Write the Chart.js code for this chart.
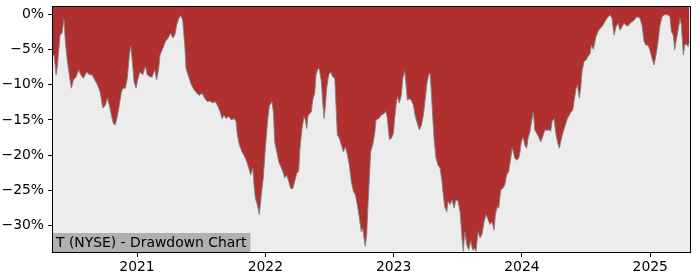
<!DOCTYPE html>
<html>
<head>
<meta charset="utf-8">
<script src="https://cdn.jsdelivr.net/npm/chart.js@4.4.1/dist/chart.umd.min.js"></script>
<style>
  html, body { margin: 0; padding: 0; background: #fff; }
  #wrap { width: 700px; height: 280px; position: relative; }
</style>
</head>
<body>
<div id="wrap"><canvas id="drawdownChart"></canvas></div>
<script>
// Drawdown of T (NYSE), dates as decimal years, values in %
const dates = [
  2020.345, 2020.353, 2020.369, 2020.379, 2020.400, 2020.415, 2020.431, 2020.441, 2020.457, 2020.472,
  2020.488, 2020.504, 2020.525, 2020.546, 2020.561, 2020.582, 2020.608, 2020.628, 2020.649, 2020.670,
  2020.691, 2020.712, 2020.733, 2020.753, 2020.769, 2020.784, 2020.800, 2020.815, 2020.831, 2020.846,
  2020.862, 2020.878, 2020.893, 2020.909, 2020.924, 2020.940, 2020.951, 2020.961, 2020.977, 2020.992,
  2021.008, 2021.023, 2021.044, 2021.065, 2021.080, 2021.101, 2021.117, 2021.138, 2021.153, 2021.169,
  2021.179, 2021.200, 2021.221, 2021.242, 2021.263, 2021.278, 2021.294, 2021.309, 2021.325, 2021.341,
  2021.356, 2021.372, 2021.382, 2021.403, 2021.423, 2021.444, 2021.465, 2021.486, 2021.507, 2021.527,
  2021.548, 2021.569, 2021.590, 2021.610, 2021.631, 2021.647, 2021.663, 2021.678, 2021.694, 2021.715,
  2021.735, 2021.756, 2021.772, 2021.782, 2021.797, 2021.818, 2021.839, 2021.855, 2021.871, 2021.886,
  2021.902, 2021.912, 2021.922, 2021.938, 2021.953, 2021.969, 2021.984, 2022.000, 2022.016, 2022.031,
  2022.052, 2022.063, 2022.073, 2022.089, 2022.104, 2022.120, 2022.136, 2022.151, 2022.167, 2022.182,
  2022.198, 2022.214, 2022.229, 2022.245, 2022.260, 2022.270, 2022.286, 2022.302, 2022.312, 2022.323,
  2022.333, 2022.348, 2022.359, 2022.369, 2022.385, 2022.395, 2022.411, 2022.421, 2022.437, 2022.447,
  2022.458, 2022.468, 2022.478, 2022.494, 2022.510, 2022.525, 2022.541, 2022.551, 2022.561, 2022.577,
  2022.592, 2022.608, 2022.624, 2022.639, 2022.655, 2022.670, 2022.686, 2022.702, 2022.717, 2022.733,
  2022.748, 2022.759, 2022.769, 2022.779, 2022.790, 2022.800, 2022.811, 2022.821, 2022.837, 2022.852,
  2022.863, 2022.884, 2022.904, 2022.925, 2022.941, 2022.951, 2022.967, 2022.982, 2022.998, 2023.008,
  2023.019, 2023.029, 2023.044, 2023.060, 2023.071, 2023.086, 2023.097, 2023.107, 2023.122, 2023.138,
  2023.154, 2023.169, 2023.185, 2023.200, 2023.216, 2023.232, 2023.247, 2023.258, 2023.273, 2023.284,
  2023.294, 2023.304, 2023.315, 2023.330, 2023.346, 2023.362, 2023.377, 2023.387, 2023.398, 2023.414,
  2023.424, 2023.440, 2023.455, 2023.471, 2023.486, 2023.502, 2023.518, 2023.533, 2023.543, 2023.554,
  2023.570, 2023.585, 2023.601, 2023.616, 2023.632, 2023.642, 2023.658, 2023.673, 2023.689, 2023.705,
  2023.720, 2023.736, 2023.751, 2023.767, 2023.783, 2023.793, 2023.808, 2023.819, 2023.835, 2023.850,
  2023.866, 2023.881, 2023.897, 2023.913, 2023.923, 2023.933, 2023.944, 2023.959, 2023.975, 2023.985,
  2023.995, 2024.011, 2024.021, 2024.037, 2024.048, 2024.063, 2024.079, 2024.089, 2024.100, 2024.115,
  2024.131, 2024.147, 2024.162, 2024.178, 2024.193, 2024.209, 2024.224, 2024.235, 2024.250, 2024.266,
  2024.282, 2024.292, 2024.308, 2024.323, 2024.339, 2024.354, 2024.370, 2024.385, 2024.396, 2024.406,
  2024.422, 2024.432, 2024.447, 2024.458, 2024.468, 2024.484, 2024.500, 2024.515, 2024.531, 2024.541,
  2024.557, 2024.577, 2024.593, 2024.609, 2024.624, 2024.640, 2024.656, 2024.671, 2024.687, 2024.702,
  2024.718, 2024.733, 2024.749, 2024.765, 2024.780, 2024.796, 2024.811, 2024.827, 2024.843, 2024.858,
  2024.874, 2024.889, 2024.905, 2024.920, 2024.936, 2024.952, 2024.967, 2024.983, 2024.998, 2025.014,
  2025.030, 2025.045, 2025.061, 2025.076, 2025.092, 2025.108, 2025.123, 2025.139, 2025.154, 2025.165,
  2025.180, 2025.191, 2025.201, 2025.217, 2025.232, 2025.243, 2025.258, 2025.269, 2025.279, 2025.295,
  2025.305
];
const drawdown = [
  -5.8, -5.8, -8.6, -7.4, -3.0, -2.7, -0.7, -3.9, -6.7, -8.6,
  -10.5, -9.3, -8.9, -7.9, -8.6, -9.1, -8.2, -8.6, -8.6, -9.3,
  -10.0, -11.0, -13.3, -12.9, -11.9, -12.9, -14.3, -15.5, -15.7, -14.5,
  -12.9, -11.0, -10.5, -10.5, -9.1, -5.8, -4.5, -6.3, -9.6, -10.5,
  -9.1, -8.2, -8.6, -7.4, -8.6, -8.9, -8.9, -7.9, -9.3, -7.7,
  -5.8, -4.9, -3.9, -3.4, -2.7, -3.4, -3.0, -1.6, -0.6, -0.2,
  -0.9, -4.4, -7.7, -8.9, -10.0, -10.7, -11.2, -11.5, -11.2, -11.9,
  -12.4, -12.3, -12.6, -12.4, -13.1, -13.8, -14.8, -14.3, -14.8, -14.5,
  -15.0, -14.8, -15.2, -17.1, -18.5, -19.5, -20.2, -20.9, -21.8, -22.8,
  -21.8, -24.2, -26.1, -27.0, -28.4, -25.6, -23.2, -19.0, -15.5, -13.0,
  -12.4, -14.0, -18.1, -19.5, -20.9, -21.6, -22.3, -23.2, -22.8, -23.7,
  -24.7, -24.7, -23.7, -22.5, -22.3, -19.0, -16.2, -14.5, -15.0, -16.2,
  -14.3, -14.1, -13.8, -12.2, -11.2, -8.6, -7.7, -7.8, -9.6, -12.4,
  -14.8, -12.9, -10.5, -8.6, -8.2, -8.9, -9.1, -12.9, -17.1, -17.6,
  -18.5, -19.5, -18.8, -19.9, -21.4, -23.7, -25.1, -25.6, -27.0, -28.9,
  -30.8, -30.3, -31.7, -32.9, -31.3, -27.0, -23.2, -19.5, -18.5, -17.0,
  -15.0, -14.8, -14.3, -14.1, -13.8, -14.8, -17.8, -17.6, -16.9, -14.8,
  -12.9, -11.7, -12.6, -11.5, -9.1, -8.1, -10.0, -12.2, -12.0, -12.2,
  -12.9, -14.5, -15.5, -16.4, -15.8, -14.3, -11.9, -10.0, -8.6, -8.4,
  -11.0, -14.3, -17.6, -20.4, -21.4, -21.8, -23.7, -25.6, -27.3, -28.0,
  -26.5, -27.0, -26.3, -27.5, -26.3, -26.5, -28.0, -31.7, -33.6, -30.8,
  -32.7, -33.4, -32.1, -33.4, -33.2, -33.6, -30.8, -31.7, -31.2, -29.4,
  -28.4, -29.1, -29.8, -29.4, -30.6, -28.4, -27.3, -27.5, -24.9, -24.7,
  -24.2, -22.8, -22.3, -20.4, -19.0, -19.5, -20.4, -20.7, -20.4, -19.5,
  -18.1, -17.4, -18.5, -19.0, -17.6, -16.6, -14.8, -13.8, -16.4, -16.9,
  -17.4, -18.1, -17.4, -16.4, -16.5, -16.4, -16.6, -15.2, -14.8, -17.1,
  -18.5, -19.0, -17.6, -16.6, -15.7, -14.8, -14.3, -13.8, -13.6, -12.4,
  -10.5, -10.0, -11.9, -10.5, -8.2, -6.7, -6.5, -6.0, -5.6, -4.4,
  -5.0, -3.2, -2.5, -2.0, -1.8, -1.3, -0.8, -0.4, -0.1, -0.6,
  -3.0, -1.8, -1.3, -2.3, -1.8, -1.3, -1.6, -1.7, -1.3, -1.1,
  -0.9, -0.5, -0.4, -0.6, -1.6, -3.9, -4.4, -4.4, -5.1, -6.3,
  -7.2, -5.8, -3.9, -1.6, -0.4, -0.1, -0.1, -0.1, -0.4, -2.5,
  -3.0, -5.1, -3.9, -2.3, -0.6, -1.6, -5.8, -4.4, -4.2, -4.6,
  -3.9
];
const yearTicks = [2021, 2022, 2023, 2024, 2025];
const pctTicks = [0, -5, -10, -15, -20, -25, -30];
const xRange = [2020.345, 2025.31];
const yRange = [-33.7, 1];
const chartTitle = "T (NYSE) - Drawdown Chart";

const FONT = "DejaVu Sans";
const FONT_SIZE = 13.9;

// plot background, frame and bottom-left label
const framePlugin = {
  id: "frame",
  beforeDraw(chart) {
    const { ctx, chartArea: a } = chart;
    ctx.save();
    ctx.fillStyle = "#ececec";
    ctx.fillRect(a.left, a.top, a.right - a.left, a.bottom - a.top);
    ctx.restore();
  },
  afterDraw(chart) {
    const { ctx, chartArea: a } = chart;
    ctx.save();
    ctx.font = FONT_SIZE + "px '" + FONT + "'";
    const w = ctx.measureText(chartTitle).width;
    ctx.fillStyle = "#b0b0b0";
    ctx.fillRect(a.left, a.bottom - 19, w + 7, 19);
    ctx.fillStyle = "#000";
    ctx.textBaseline = "alphabetic";
    ctx.fillText(chartTitle, a.left + 3, a.bottom - 5);
    ctx.strokeStyle = "#000";
    ctx.lineWidth = 1;
    ctx.strokeRect(a.left - 0.5, a.top - 0.5, a.right - a.left + 1, a.bottom - a.top + 1);
    ctx.restore();
  },
};

new Chart(document.getElementById("drawdownChart"), {
  type: "line",
  data: {
    datasets: [
      {
        label: "Drawdown",
        data: dates.map((d, i) => ({ x: d, y: drawdown[i] })),
        fill: "end",
        backgroundColor: "#b03030",
        borderColor: "rgba(128,128,128,0.9)",
        borderWidth: 1,
        pointRadius: 0,
        tension: 0,
      },
    ],
  },
  options: {
    responsive: true,
    maintainAspectRatio: false,
    animation: false,
    layout: { padding: { top: 7, right: 10, left: 0, bottom: 0 } },
    plugins: { legend: { display: false }, tooltip: { enabled: false } },
    scales: {
      x: {
        type: "linear",
        min: xRange[0],
        max: xRange[1],
        afterBuildTicks: (s) => { s.ticks = yearTicks.map((v) => ({ value: v })); },
        afterFit: (s) => { s.height = 28; s.paddingLeft = 0; s.paddingRight = 0; },
        grid: { drawOnChartArea: false, tickLength: 5, color: "#000" },
        border: { display: false },
        ticks: {
          color: "#000",
          font: { family: FONT, size: FONT_SIZE },
          padding: 2,
          maxRotation: 0,
          callback: (v) => String(v),
        },
      },
      y: {
        min: yRange[0],
        max: yRange[1],
        afterBuildTicks: (s) => { s.ticks = pctTicks.map((v) => ({ value: v })); },
        afterFit: (s) => { s.width = 53; s.paddingTop = 0; s.paddingBottom = 0; },
        grid: { drawOnChartArea: false, tickLength: 5, color: "#000" },
        border: { display: false },
        ticks: {
          color: "#000",
          font: { family: FONT, size: FONT_SIZE },
          padding: 4,
          callback: (v) => (v < 0 ? "\u2212" + Math.abs(v) : v) + "%",
        },
      },
    },
  },
  plugins: [framePlugin],
});
</script>
</body>
</html>
